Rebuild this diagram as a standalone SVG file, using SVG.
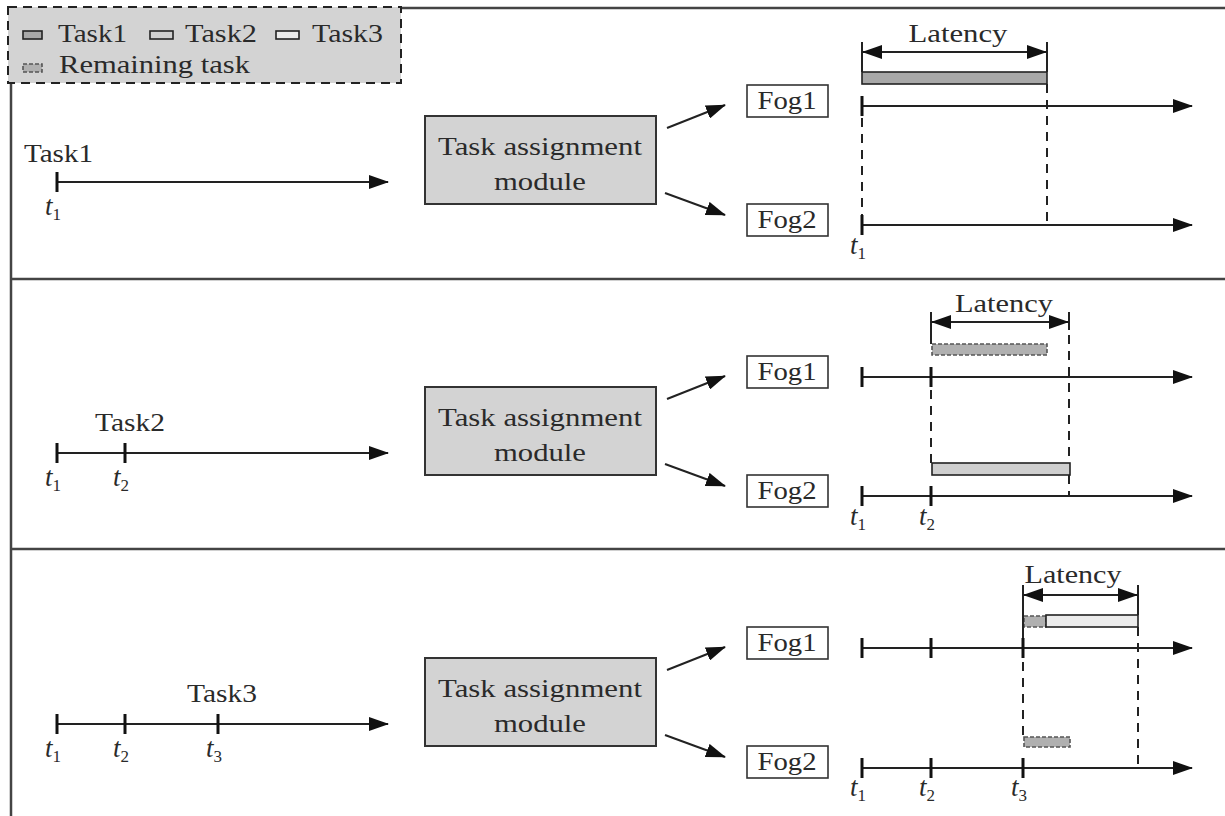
<svg xmlns="http://www.w3.org/2000/svg" width="1225" height="816" viewBox="0 0 1225 816">
<style>
text{font-family:"Liberation Serif","DejaVu Serif",serif;font-size:26px;fill:#2a2a2a}
.it{font-style:italic;font-size:27px}
.sub{font-size:17px;font-style:normal}
.ln{stroke:#222;stroke-width:2;fill:none}
.tk{stroke:#111;stroke-width:3}
.dash{stroke:#222;stroke-width:2;stroke-dasharray:9,7;fill:none}
.frame{stroke:#444;stroke-width:2.5;fill:none}
.mod{fill:#d3d3d3;stroke:#333;stroke-width:2}
.fog{fill:#fff;stroke:#333;stroke-width:1.6}
.t1{fill:#a8a8a8;stroke:#222;stroke-width:1.6}
.t2{fill:#cfcfcf;stroke:#222;stroke-width:1.6}
.t3{fill:#ececec;stroke:#222;stroke-width:1.6}
.rem{fill:#b0b0b0;stroke:#555;stroke-width:1.6;stroke-dasharray:4,2}
</style>
<defs>
<marker id="ah" viewBox="0 0 20 14" refX="19" refY="7" markerWidth="20" markerHeight="14" markerUnits="userSpaceOnUse" orient="auto">
<path d="M0,0 L20,7 L0,14 Z" fill="#111"/>
</marker>
<marker id="ahs" viewBox="0 0 20 14" refX="1" refY="7" markerWidth="20" markerHeight="14" markerUnits="userSpaceOnUse" orient="auto">
<path d="M20,0 L0,7 L20,14 Z" fill="#111"/>
</marker>
</defs>
<rect width="1225" height="816" fill="#fff"/>

<g id="frame">
<line class="frame" x1="11" y1="8" x2="11" y2="816"/>
<line class="frame" x1="400" y1="8" x2="1225" y2="8"/>
<line class="frame" x1="11" y1="279" x2="1225" y2="279"/>
<line class="frame" x1="11" y1="549" x2="1225" y2="549"/>
</g>

<g id="legend">
<rect x="8" y="7" width="393" height="76" fill="#d3d3d3" stroke="#222" stroke-width="2" stroke-dasharray="9,6"/>
<rect x="23" y="31" width="19" height="8" class="t1"/>
<text x="58" y="42" textLength="69" lengthAdjust="spacingAndGlyphs">Task1</text>
<rect x="150" y="31" width="23" height="8" class="t2"/>
<text x="185" y="42" textLength="72" lengthAdjust="spacingAndGlyphs">Task2</text>
<rect x="276" y="31" width="23" height="8" class="t3"/>
<text x="312" y="42" textLength="71" lengthAdjust="spacingAndGlyphs">Task3</text>
<rect x="23" y="64" width="19" height="8" class="rem"/>
<text x="59" y="73" textLength="191" lengthAdjust="spacingAndGlyphs">Remaining task</text>
</g>

<!-- Panel 1 -->
<g id="p1-input">
<text x="24" y="162" textLength="69" lengthAdjust="spacingAndGlyphs">Task1</text>
<line class="ln" x1="57" y1="182" x2="388" y2="182" marker-end="url(#ah)"/>
<line class="tk" x1="57" y1="172" x2="57" y2="192"/>
<text x="45" y="215" class="it">t<tspan class="sub" dy="5">1</tspan></text>
</g>
<g id="p1-module">
<rect x="425" y="116" width="231" height="88" class="mod"/>
<text x="540" y="155" text-anchor="middle" textLength="204" lengthAdjust="spacingAndGlyphs">Task assignment</text>
<text x="540" y="190" text-anchor="middle" textLength="92" lengthAdjust="spacingAndGlyphs">module</text>
</g>
<g id="p1-fog1"><rect x="747" y="85" width="81" height="32" class="fog"/><text x="787" y="109" text-anchor="middle" textLength="59" lengthAdjust="spacingAndGlyphs">Fog1</text></g>
<g id="p1-fog2"><rect x="747" y="204" width="81" height="32" class="fog"/><text x="787" y="228" text-anchor="middle" textLength="59" lengthAdjust="spacingAndGlyphs">Fog2</text></g>
<g id="p1-timeline">
<line class="ln" x1="862" y1="106" x2="1192" y2="106" marker-end="url(#ah)"/>
<line class="ln" x1="862" y1="225" x2="1192" y2="225" marker-end="url(#ah)"/>
<line class="tk" x1="862" y1="96" x2="862" y2="116"/>
<line class="tk" x1="862" y1="215" x2="862" y2="235"/>
<rect x="862" y="72" width="185" height="12" class="t1"/>
<line class="ln" x1="862" y1="42" x2="862" y2="72"/>
<line class="ln" x1="1047" y1="42" x2="1047" y2="72"/>
<line class="dash" x1="862" y1="118" x2="862" y2="215"/>
<line class="dash" x1="1047" y1="84" x2="1047" y2="225"/>
<line class="ln" x1="863" y1="52" x2="1046" y2="52" marker-start="url(#ahs)" marker-end="url(#ah)"/>
<text x="958" y="42" text-anchor="middle" textLength="99" lengthAdjust="spacingAndGlyphs">Latency</text>
<text x="850" y="254" class="it">t<tspan class="sub" dy="5">1</tspan></text>
</g>

<!-- Panel 2 -->
<g id="p2-input">
<text x="95" y="431" textLength="70" lengthAdjust="spacingAndGlyphs">Task2</text>
<line class="ln" x1="57" y1="453" x2="388" y2="453" marker-end="url(#ah)"/>
<line class="tk" x1="57" y1="443" x2="57" y2="463"/>
<line class="tk" x1="125" y1="443" x2="125" y2="463"/>
<text x="45" y="486" class="it">t<tspan class="sub" dy="5">1</tspan></text>
<text x="113" y="486" class="it">t<tspan class="sub" dy="5">2</tspan></text>
</g>
<g id="p2-module">
<rect x="425" y="387" width="231" height="88" class="mod"/>
<text x="540" y="426" text-anchor="middle" textLength="204" lengthAdjust="spacingAndGlyphs">Task assignment</text>
<text x="540" y="461" text-anchor="middle" textLength="92" lengthAdjust="spacingAndGlyphs">module</text>
</g>
<g id="p2-fog1"><rect x="747" y="356" width="81" height="32" class="fog"/><text x="787" y="380" text-anchor="middle" textLength="59" lengthAdjust="spacingAndGlyphs">Fog1</text></g>
<g id="p2-fog2"><rect x="747" y="475" width="81" height="32" class="fog"/><text x="787" y="499" text-anchor="middle" textLength="59" lengthAdjust="spacingAndGlyphs">Fog2</text></g>
<g id="p2-timeline">
<line class="ln" x1="862" y1="377" x2="1192" y2="377" marker-end="url(#ah)"/>
<line class="ln" x1="862" y1="496" x2="1192" y2="496" marker-end="url(#ah)"/>
<line class="tk" x1="862" y1="367" x2="862" y2="387"/>
<line class="tk" x1="931" y1="367" x2="931" y2="387"/>
<line class="tk" x1="862" y1="486" x2="862" y2="506"/>
<line class="tk" x1="931" y1="486" x2="931" y2="506"/>
<rect x="932" y="344" width="115" height="11" class="rem"/>
<rect x="932" y="463" width="138" height="12" class="t2"/>
<line class="ln" x1="931" y1="312" x2="931" y2="344"/>
<line class="ln" x1="1069" y1="312" x2="1069" y2="330"/>
<line class="dash" x1="931" y1="390" x2="931" y2="463"/>
<line class="dash" x1="1069" y1="335" x2="1069" y2="463"/>
<line class="dash" x1="1069" y1="475" x2="1069" y2="496"/>
<line class="ln" x1="932" y1="322" x2="1068" y2="322" marker-start="url(#ahs)" marker-end="url(#ah)"/>
<text x="1004" y="312" text-anchor="middle" textLength="98" lengthAdjust="spacingAndGlyphs">Latency</text>
<text x="850" y="525" class="it">t<tspan class="sub" dy="5">1</tspan></text>
<text x="919" y="525" class="it">t<tspan class="sub" dy="5">2</tspan></text>
</g>

<!-- Panel 3 -->
<g id="p3-input">
<text x="187" y="702" textLength="70" lengthAdjust="spacingAndGlyphs">Task3</text>
<line class="ln" x1="57" y1="724" x2="388" y2="724" marker-end="url(#ah)"/>
<line class="tk" x1="57" y1="714" x2="57" y2="734"/>
<line class="tk" x1="125" y1="714" x2="125" y2="734"/>
<line class="tk" x1="218" y1="714" x2="218" y2="734"/>
<text x="45" y="757" class="it">t<tspan class="sub" dy="5">1</tspan></text>
<text x="113" y="757" class="it">t<tspan class="sub" dy="5">2</tspan></text>
<text x="206" y="757" class="it">t<tspan class="sub" dy="5">3</tspan></text>
</g>
<g id="p3-module">
<rect x="425" y="658" width="231" height="88" class="mod"/>
<text x="540" y="697" text-anchor="middle" textLength="204" lengthAdjust="spacingAndGlyphs">Task assignment</text>
<text x="540" y="732" text-anchor="middle" textLength="92" lengthAdjust="spacingAndGlyphs">module</text>
</g>
<g id="p3-fog1"><rect x="747" y="627" width="81" height="32" class="fog"/><text x="787" y="651" text-anchor="middle" textLength="59" lengthAdjust="spacingAndGlyphs">Fog1</text></g>
<g id="p3-fog2"><rect x="747" y="746" width="81" height="32" class="fog"/><text x="787" y="770" text-anchor="middle" textLength="59" lengthAdjust="spacingAndGlyphs">Fog2</text></g>
<g id="p3-timeline">
<line class="ln" x1="862" y1="648" x2="1192" y2="648" marker-end="url(#ah)"/>
<line class="ln" x1="862" y1="768" x2="1192" y2="768" marker-end="url(#ah)"/>
<line class="tk" x1="862" y1="638" x2="862" y2="658"/>
<line class="tk" x1="931" y1="638" x2="931" y2="658"/>
<line class="tk" x1="1023" y1="638" x2="1023" y2="658"/>
<line class="tk" x1="862" y1="758" x2="862" y2="778"/>
<line class="tk" x1="931" y1="758" x2="931" y2="778"/>
<line class="tk" x1="1023" y1="758" x2="1023" y2="778"/>
<rect x="1024" y="616" width="22" height="11" class="rem"/>
<rect x="1046" y="615" width="92" height="12" class="t3"/>
<rect x="1024" y="737" width="46" height="10" class="rem"/>
<line class="ln" x1="1023" y1="585" x2="1023" y2="638"/>
<line class="ln" x1="1138" y1="585" x2="1138" y2="615"/>
<line class="dash" x1="1023" y1="662" x2="1023" y2="737"/>
<line class="dash" x1="1138" y1="627" x2="1138" y2="768"/>
<line class="ln" x1="1024" y1="595" x2="1137" y2="595" marker-start="url(#ahs)" marker-end="url(#ah)"/>
<text x="1073" y="583" text-anchor="middle" textLength="97" lengthAdjust="spacingAndGlyphs">Latency</text>
<text x="850" y="796" class="it">t<tspan class="sub" dy="5">1</tspan></text>
<text x="919" y="796" class="it">t<tspan class="sub" dy="5">2</tspan></text>
<text x="1011" y="796" class="it">t<tspan class="sub" dy="5">3</tspan></text>
</g>

<g id="connectors">
<line class="ln" x1="667" y1="128" x2="725" y2="105" marker-end="url(#ah)"/>
<line class="ln" x1="665" y1="193" x2="725" y2="215" marker-end="url(#ah)"/>
<line class="ln" x1="667" y1="399" x2="725" y2="376" marker-end="url(#ah)"/>
<line class="ln" x1="665" y1="464" x2="725" y2="486" marker-end="url(#ah)"/>
<line class="ln" x1="667" y1="670" x2="725" y2="647" marker-end="url(#ah)"/>
<line class="ln" x1="665" y1="735" x2="725" y2="757" marker-end="url(#ah)"/>
</g>
</svg>
